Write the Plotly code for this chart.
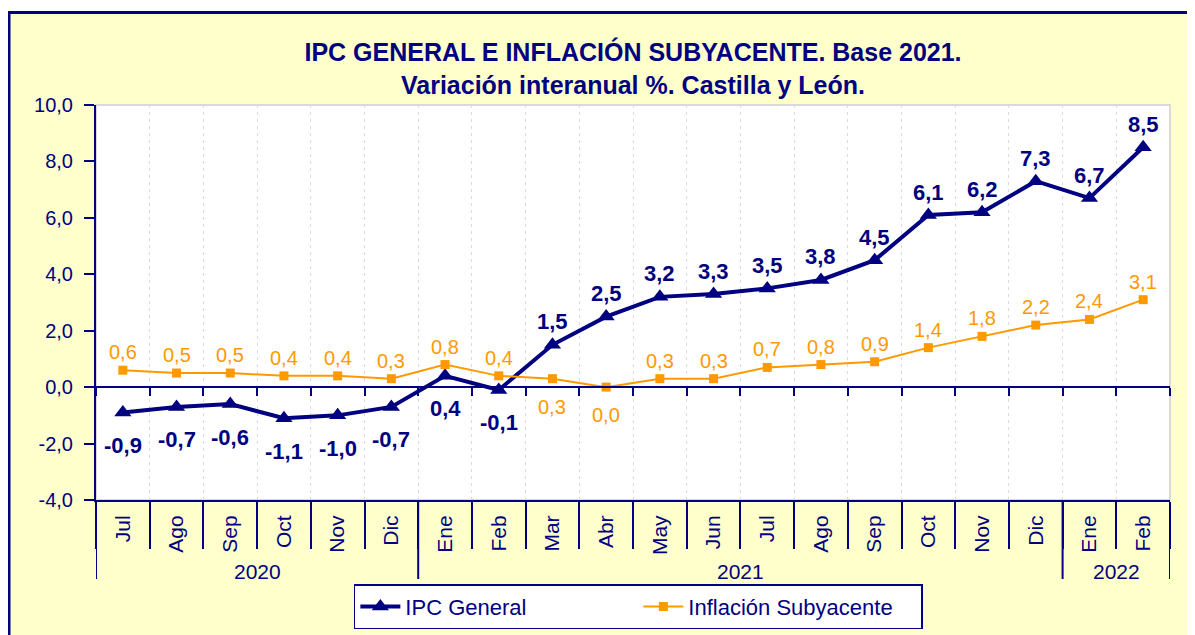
import plotly.graph_objects as go

# ---------------- data ----------------
months = ["Jul", "Ago", "Sep", "Oct", "Nov", "Dic", "Ene", "Feb", "Mar", "Abr",
          "May", "Jun", "Jul", "Ago", "Sep", "Oct", "Nov", "Dic", "Ene", "Feb"]
years = ["2020"] * 6 + ["2021"] * 12 + ["2022"] * 2
ipc_general = [-0.9, -0.7, -0.6, -1.1, -1.0, -0.7, 0.4, -0.1, 1.5, 2.5,
               3.2, 3.3, 3.5, 3.8, 4.5, 6.1, 6.2, 7.3, 6.7, 8.5]
inflacion_sub = [0.6, 0.5, 0.5, 0.4, 0.4, 0.3, 0.8, 0.4, 0.3, 0.0,
                 0.3, 0.3, 0.7, 0.8, 0.9, 1.4, 1.8, 2.2, 2.4, 3.1]
ipc_label_side = ["below"] * 8 + ["above"] * 12
sub_label_side = ["above"] * 8 + ["below"] * 2 + ["above"] * 10
y_ticks = [-4, -2, 0, 2, 4, 6, 8, 10]
y_range = [-4, 10]

NAVY = "#000080"
ORANGE = "#FF9900"
FONT = "Liberation Sans, Arial, sans-serif"

idx = list(range(len(months)))
bounds = [i - 0.5 for i in idx] + [len(idx) - 0.5]


def fmt(v):
    return f"{v:.1f}".replace(".", ",")


fig = go.Figure()
fig.add_trace(go.Scatter(
    x=idx, y=ipc_general, name="IPC General", mode="lines+markers",
    line=dict(color=NAVY, width=4),
    marker=dict(symbol="triangle-up", size=15, color=NAVY),
))
fig.add_trace(go.Scatter(
    x=idx, y=inflacion_sub, name="Inflación Subyacente", mode="lines+markers",
    line=dict(color=ORANGE, width=2),
    marker=dict(symbol="square", size=9, color=ORANGE),
))
# helper trace for zero-crossing category axis
fig.add_trace(go.Scatter(x=idx, y=[None] * len(idx), xaxis="x2", showlegend=False,
                         hoverinfo="skip", mode="lines"))

annotations = []
for i, v in enumerate(ipc_general):
    annotations.append(dict(
        x=i, y=v, xref="x", yref="y", text=fmt(v), showarrow=False,
        yshift=23 if ipc_label_side[i] == "above" else -33,
        font=dict(family=FONT, size=22, color=NAVY, weight="bold"),
    ))
for i, v in enumerate(inflacion_sub):
    annotations.append(dict(
        x=i, y=v, xref="x", yref="y", text=fmt(v), showarrow=False,
        yshift=18 if sub_label_side[i] == "above" else -28,
        font=dict(family=FONT, size=20, color=ORANGE),
    ))

# year labels and separators
groups = []
for i, yv in enumerate(years):
    if not groups or groups[-1][0] != yv:
        groups.append([yv, i, i])
    else:
        groups[-1][2] = i
shapes = [
    # outer yellow frame
    dict(type="rect", xref="paper", yref="paper", x0=-0.081, x1=1.06, y0=-0.4, y1=1.2342,
         fillcolor="#FFFFCC", line=dict(color=NAVY, width=3), layer="below"),
    # plot area
    dict(type="rect", xref="paper", yref="paper", x0=0, x1=1, y0=0, y1=1,
         fillcolor="white", line=dict(color="#D9D9D9", width=2), layer="below"),
]
sep_x = [groups[0][1] - 0.5] + [g[2] + 0.5 for g in groups]
for sx in sep_x:
    shapes.append(dict(type="line", xref="x", yref="paper", x0=sx, x1=sx, y0=0, y1=-0.2,
                       line=dict(color=NAVY, width=2)))
for g in groups:
    annotations.append(dict(
        x=(g[1] + g[2]) / 2, y=-0.182, xref="x", yref="paper", text=g[0], showarrow=False,
        yanchor="middle", font=dict(family=FONT, size=21, color=NAVY),
    ))

zero_pos = (0 - y_range[0]) / (y_range[1] - y_range[0])

fig.update_layout(
    width=1195, height=635,
    margin=dict(l=88, r=33, t=97, b=143),
    paper_bgcolor="white", plot_bgcolor="rgba(0,0,0,0)",
    separators=",.",
    font=dict(family=FONT, color=NAVY),
    title=dict(
        text="IPC GENERAL E INFLACIÓN SUBYACENTE. Base 2021.<br>Variación interanual %. Castilla y León.",
        x=0.5, xref="paper", xanchor="center", y=1 - 53 / 635, yref="container", yanchor="middle",
        font=dict(family=FONT, size=25, color=NAVY, weight="bold"),
    ),
    xaxis=dict(
        range=[-0.5, len(idx) - 0.5], tickmode="array", tickvals=idx, ticktext=months,
        tickangle=-90, ticks="", showgrid=False, zeroline=False, automargin=False,
        showline=True, linecolor=NAVY, linewidth=2,
        tickfont=dict(family=FONT, size=21, color=NAVY), ticklabelstandoff=5,
        minor=dict(tickmode="array", tickvals=bounds, ticks="outside", ticklen=47,
                   tickwidth=2, tickcolor=NAVY, showgrid=True, gridcolor="#DADADA",
                   griddash="3px,4px", gridwidth=1),
    ),
    xaxis2=dict(
        overlaying="x", anchor="free", position=zero_pos, side="bottom",
        range=[-0.5, len(idx) - 0.5], tickmode="array", tickvals=bounds, automargin=False,
        showticklabels=False, ticks="outside", ticklen=8, tickwidth=2, tickcolor=NAVY,
        showline=True, linecolor=NAVY, linewidth=2, showgrid=False, zeroline=False,
    ),
    yaxis=dict(
        range=y_range, tickmode="array", tickvals=y_ticks, ticktext=[fmt(t) for t in y_ticks],
        ticks="outside", ticklen=10, tickwidth=2, tickcolor=NAVY, automargin=False,
        showline=True, linecolor=NAVY, linewidth=2, showgrid=False, zeroline=False,
        tickfont=dict(family=FONT, size=20, color=NAVY), ticklabelstandoff=7,
    ),
    legend=dict(
        orientation="h", x=0.505, xanchor="center", y=-0.213, yanchor="top",
        bgcolor="white", bordercolor=NAVY, borderwidth=1.5,
        font=dict(family=FONT, size=22, color=NAVY),
        entrywidth=228, itemwidth=40,
    ),
    annotations=annotations,
    shapes=shapes,
    showlegend=True,
)

fig.write_html("out.html")
